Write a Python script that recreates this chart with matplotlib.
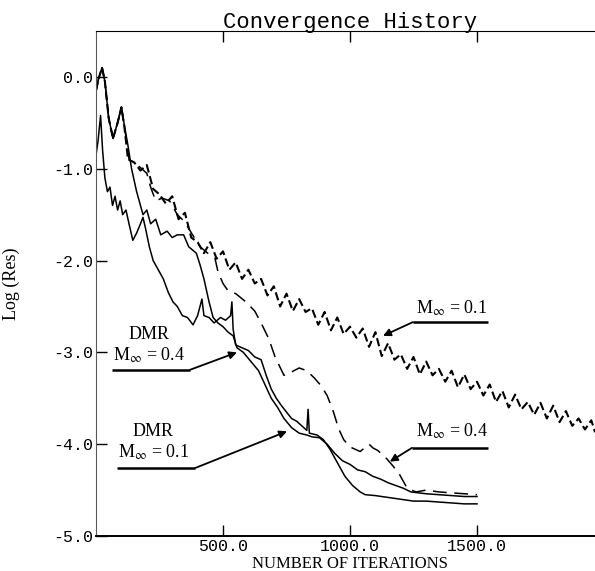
import matplotlib
matplotlib.use("Agg")
import matplotlib.pyplot as plt

# iterations / log residual
it_m01 = [0, 10, 24, 35, 50, 67, 85, 100, 112, 126, 150, 175, 200, 225, 250, 275, 300,
          325, 350, 375, 400, 425, 450, 475, 500, 525, 550, 575, 600, 625, 650, 675,
          700, 725, 750, 775, 800, 825, 850, 875, 900, 925, 950, 975, 1000, 1025, 1050,
          1075, 1100, 1125, 1150, 1175, 1200, 1225, 1250, 1275, 1300, 1325, 1350, 1375,
          1400, 1425, 1450, 1475, 1500, 1525, 1550, 1575, 1600, 1625, 1650, 1675, 1700,
          1725, 1750, 1775, 1800, 1825, 1850, 1875, 1900, 1925, 1950, 1965]
res_m01 = [-0.15, -0.02, 0.1, -0.05, -0.45, -0.67, -0.5, -0.33, -0.55, -0.9, -0.93,
           -1.02, -0.96, -1.22, -1.28, -1.38, -1.3, -1.55, -1.48, -1.75, -1.8, -1.92,
           -1.8, -1.98, -1.9, -2.1, -2.02, -2.2, -2.1, -2.25, -2.2, -2.38, -2.28,
           -2.5, -2.36, -2.55, -2.42, -2.56, -2.52, -2.7, -2.56, -2.76, -2.62, -2.8,
           -2.72, -2.84, -2.74, -2.94, -2.78, -3.04, -2.9, -3.08, -3.02, -3.18, -3.05,
           -3.24, -3.1, -3.25, -3.18, -3.32, -3.2, -3.38, -3.24, -3.4, -3.32, -3.47,
           -3.35, -3.54, -3.42, -3.6, -3.46, -3.62, -3.54, -3.68, -3.55, -3.72, -3.58,
           -3.76, -3.64, -3.8, -3.72, -3.84, -3.74, -3.87]

it_m04 = [0, 10, 24, 35, 50, 67, 85, 100, 115, 130, 160, 200, 215, 235, 260, 290, 320,
          350, 380, 410, 440, 468, 480, 500, 520, 550, 590, 625, 650, 680, 705, 740,
          765, 800, 830, 860, 885, 910, 935, 955, 975, 1000, 1040, 1075, 1090, 1110,
          1145, 1170, 1195, 1225, 1260, 1300, 1350, 1400, 1450, 1500]
res_m04 = [-0.15, -0.02, 0.1, -0.05, -0.45, -0.67, -0.5, -0.33, -0.6, -0.9, -0.95,
           -1.05, -1.2, -1.35, -1.32, -1.35, -1.5, -1.58, -1.72, -1.85, -1.92, -1.97,
           -2.12, -2.25, -2.33, -2.36, -2.45, -2.55, -2.68, -2.85, -3.05, -3.25, -3.22,
           -3.17, -3.2, -3.28, -3.36, -3.47, -3.65, -3.83, -3.95, -4.03, -4.08, -4.0,
           -4.04, -4.07, -4.16, -4.24, -4.33, -4.48, -4.52, -4.5, -4.52, -4.53, -4.54,
           -4.55]

it_dmr04 = [0, 10, 24, 35, 50, 67, 85, 100, 110, 126, 140, 160, 185, 200, 215, 235, 255,
            280, 300, 320, 345, 365, 395, 410, 425, 445, 461, 480, 500, 520, 540, 555,
            580, 610, 640, 665, 690, 715, 740, 770, 800, 830, 850, 880, 910, 940, 970,
            1000, 1030, 1060, 1090, 1120, 1150, 1180, 1210, 1240, 1300, 1350, 1400,
            1450, 1500]
res_dmr04 = [-0.15, -0.02, 0.1, -0.05, -0.45, -0.67, -0.5, -0.33, -0.5, -0.75, -1.0,
             -1.25, -1.5, -1.45, -1.6, -1.55, -1.72, -1.68, -1.75, -1.72, -1.72, -1.85,
             -1.92, -2.05, -2.2, -2.45, -2.62, -2.68, -2.72, -2.78, -2.82, -2.95, -3.0,
             -3.1, -3.2, -3.35, -3.5, -3.6, -3.72, -3.82, -3.88, -3.9, -3.92, -3.93,
             -4.0, -4.1, -4.18, -4.22, -4.28, -4.3, -4.35, -4.38, -4.42, -4.45, -4.48,
             -4.52, -4.54, -4.55, -4.56, -4.57, -4.57]

it_dmr01 = [0, 8, 18, 26, 35, 45, 55, 65, 75, 85, 95, 105, 118, 130, 145, 160, 175, 185,
            195, 210, 225, 245, 265, 285, 303, 320, 340, 360, 382, 400, 417, 425, 445,
            465, 490, 510, 530, 535, 540, 550, 575, 600, 625, 650, 670, 690, 710, 730,
            750, 770, 790, 810, 830, 835, 840, 870, 895, 920, 950, 980, 1010, 1040, 1060,
            1100, 1150, 1200, 1250, 1300, 1350, 1400, 1450, 1500]
res_dmr01 = [-0.85, -0.7, -0.42, -0.8, -1.1, -1.25, -1.2, -1.4, -1.3, -1.45, -1.35,
             -1.5, -1.45, -1.6, -1.78, -1.7, -1.6, -1.53, -1.65, -1.85, -2.0, -2.1,
             -2.2, -2.35, -2.45, -2.5, -2.6, -2.62, -2.7, -2.6, -2.42, -2.6, -2.62,
             -2.68, -2.62, -2.65, -2.6, -2.45, -2.75, -2.92, -2.95, -2.98, -3.05, -3.08,
             -3.25, -3.4, -3.5, -3.58, -3.65, -3.72, -3.75, -3.8, -3.85, -3.62, -3.88,
             -3.9, -3.95, -4.05, -4.2, -4.35, -4.45, -4.52, -4.55, -4.56, -4.58, -4.6,
             -4.62, -4.62, -4.63, -4.64, -4.65, -4.65]

x_ticks = [500, 1000, 1500]
y_ticks = [0.0, -1.0, -2.0, -3.0, -4.0, -5.0]

# labels: (text lines, text x, baselines, leader y, leader x0, leader x1, arrow tip)
labels = [
    (["M$_{\\infty}$ = 0.1"], 1400, [-2.58], -2.67, 1543, 1248, (1130, -2.82)),
    (["M$_{\\infty}$ = 0.4"], 1400, [-3.92], -4.04, 1543, 1244, (1157, -4.19)),
    (["DMR", "M$_{\\infty}$ = 0.4"], 208, [-2.85, -3.09], -3.19, 63, 370, (555, -3.0)),
    (["DMR", "M$_{\\infty}$ = 0.1"], 226, [-3.91, -4.15], -4.26, 83, 390, (752, -3.86)),
]

plt.rcParams['mathtext.fontset'] = 'stix'
mono = 'Liberation Mono'
serif = 'Liberation Serif'

fig = plt.figure(figsize=(5.95, 5.71), dpi=100)
ax = fig.add_axes([96 / 595, 35 / 571, 508 / 595, 505 / 571])

ax.plot(it_m01, res_m01, color='k', lw=1.5, linestyle=(0, (4, 1.8)))
ax.plot(it_m04, res_m04, color='k', lw=1.1, linestyle=(0, (9, 5)))
ax.plot(it_dmr04, res_dmr04, color='k', lw=1.1)
ax.plot(it_dmr01, res_dmr01, color='k', lw=1.1)

for lines, tx, bases, ly, lx0, lx1, tip in labels:
    for s, b in zip(lines, bases):
        ax.text(tx, b, s, ha='center', va='baseline', family=serif, fontsize=13)
    ax.plot([lx0, lx1], [ly, ly], color='k', lw=1.8, solid_capstyle='butt')
    ax.annotate('', xy=tip, xytext=(lx1, ly),
                arrowprops=dict(arrowstyle='-|>', color='k', lw=1.3,
                                mutation_scale=11, shrinkA=0, shrinkB=0))

ax.set_xlim(0, 2000)
ax.set_ylim(-5.0, 0.5)
ax.set_xticks(x_ticks)
ax.set_xticklabels([f'{v:.1f}' for v in x_ticks], family=mono, fontsize=12)
ax.set_yticks(y_ticks)
ax.set_yticklabels([f'{v:.1f}' for v in y_ticks], family=mono, fontsize=12)
ax.tick_params(direction='in', length=8, width=1, pad=2, top=True)
ax.spines['right'].set_visible(False)
ax.spines['left'].set_color('0.35')
ax.spines['bottom'].set_linewidth(1.4)

ax.set_title('Convergence History', family=mono, fontsize=16, pad=2)
ax.set_xlabel('NUMBER OF ITERATIONS', family=serif, fontsize=12)
ax.xaxis.set_label_coords(0.5, -0.04)
ax.set_ylabel('Log (Res)', family=serif, fontsize=13)
ax.yaxis.set_label_coords(-0.15, 0.5)

fig.savefig('out.png', dpi=100)
